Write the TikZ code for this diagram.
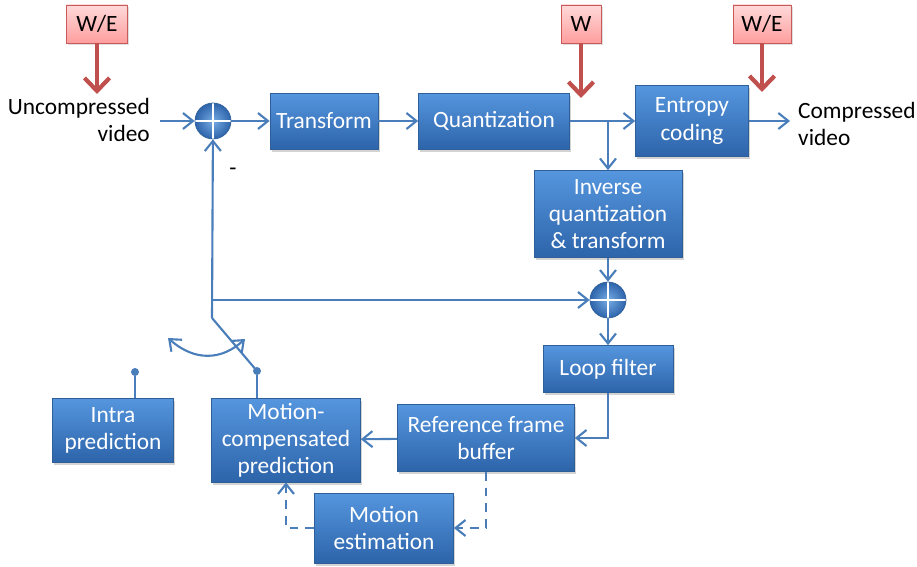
\documentclass[tikz,border=0pt]{standalone}
\usepackage{fontspec}
\setmainfont{Carlito}
\usetikzlibrary{arrows.meta,shadows}

\definecolor{boxtop}{HTML}{5596DE}
\definecolor{boxbot}{HTML}{2D64AA}
\definecolor{boxline}{HTML}{2F5F98}
\definecolor{wire}{HTML}{4A7EBB}
\definecolor{tagtop}{HTML}{FFD9D9}
\definecolor{tagbot}{HTML}{FF9E9E}
\definecolor{tagline}{HTML}{C85A5A}
\definecolor{ctrl}{HTML}{C0504D}

\begin{document}
\begin{tikzpicture}[x=0.02cm,y=-0.02cm,
		font=\fontsize{13.3}{15.4}\selectfont,
		box_style/.style={rectangle,draw=boxline,top color=boxtop,bottom color=boxbot,
			text=white,align=center,inner sep=0pt,
			drop shadow={opacity=0.35,shadow xshift=1pt,shadow yshift=-1.5pt}},
		tag_style/.style={rectangle,draw=tagline,top color=tagtop,bottom color=tagbot,
			text=black,inner sep=0pt,minimum height=0.76cm,
			drop shadow={opacity=0.25,shadow xshift=1pt,shadow yshift=-1pt}},
		sum_style/.style={circle,draw=boxline,inner sep=0pt,minimum size=0.72cm,
			inner color=boxtop!80!white,outer color=boxbot,
			path picture={\draw[white,line width=0.8pt]
				(path picture bounding box.north) -- (path picture bounding box.south)
				(path picture bounding box.west) -- (path picture bounding box.east);}},
		pin_style/.style={circle,fill=wire,inner sep=0pt,minimum size=0.16cm},
		edge_style/.style={draw=wire,line width=1.2pt,-{Straight Barb[length=2mm,width=3.2mm]}},
		line_style/.style={draw=wire,line width=1.2pt},
		dash_style/.style={draw=wire,line width=1.2pt,dash pattern=on 5pt off 4pt},
		ctrl_style/.style={draw=ctrl,line width=2.4pt,-{Straight Barb[length=2.6mm,width=5mm]}}]

		\useasboundingbox (0,0) rectangle (917,567);

		% control tags
		\node[tag_style,minimum width=1.22cm] (we1) at (97,24) {W/E};
		\node[tag_style,minimum width=0.80cm] (w2) at (581,24) {W};
		\node[tag_style,minimum width=1.16cm] (we3) at (762,24) {W/E};

		% forward path
		\node[align=right,anchor=east] (in) at (156,120) {Uncompressed\\video};
		\node[sum_style] (sum1) at (213,121) {};
		\node[box_style,minimum width=2.16cm,minimum height=1.12cm] (tr) at (324,121) {Transform};
		\node[box_style,minimum width=3.02cm,minimum height=1.12cm] (qu) at (494,121) {Quantization};
		\node[box_style,minimum width=2.26cm,minimum height=1.42cm] (ent) at (692,121) {Entropy\\coding};
		\node[align=left,anchor=west] (out) at (792,124) {Compressed\\video};

		% reconstruction loop
		\node[box_style,minimum width=2.96cm,minimum height=1.74cm] (inv) at (608,214) {Inverse\\quantization\\\& transform};
		\node[sum_style] (sum2) at (608,300) {};
		\node[box_style,minimum width=2.60cm,minimum height=0.94cm] (loop) at (608,369) {Loop filter};
		\node[box_style,minimum width=3.54cm,minimum height=1.34cm] (ref) at (486,438) {Reference frame\\buffer};
		\node[box_style,minimum width=2.98cm,minimum height=1.68cm] (mc) at (286,440) {Motion-\\compensated\\prediction};
		\node[box_style,minimum width=2.42cm,minimum height=1.28cm] (intra) at (113,430) {Intra\\prediction};
		\node[box_style,minimum width=2.78cm,minimum height=1.40cm] (me) at (384,528) {Motion\\estimation};

		% switch
		\node[pin_style] (ipin) at (135,372) {};
		\node[pin_style] (mpin) at (257,371) {};
		\coordinate (sw) at (212,318);
		\coordinate (tap) at (212,300);
		\coordinate (split) at (608,121);
		\coordinate (swl) at (168,338);
		\coordinate (swr) at (245,339);
		\node (minus) at (233,172) {-};

		\draw[ctrl_style] (we1) -- ++(0,70);
		\draw[ctrl_style] (w2) -- ++(0,74);
		\draw[ctrl_style] (we3) -- ++(0,68);

		\draw[edge_style] (in.east |- sum1) ++(4,0) -- (sum1);
		\draw[edge_style] (sum1) -- (tr);
		\draw[edge_style] (tr) -- (qu);
		\draw[edge_style] (qu) -- (ent);
		\draw[edge_style] (ent) -- ++(98,0);
		\draw[edge_style] (split) -- (inv);
		\draw[edge_style] (inv) -- (sum2);
		\draw[edge_style] (sum2) -- (loop);
		\draw[edge_style] (loop.south) |- (ref.east);
		\draw[edge_style] (ref) -- (mc);
		\draw[edge_style] (sw) -- (sum1);
		\draw[edge_style] (tap) -- (sum2);
		\draw[line_style] (sw) -- (mpin.center);
		\draw[line_style] (mpin) -- (mpin |- mc.north);
		\draw[line_style] (ipin) -- (ipin |- intra.north);
		\draw[line_style,{Straight Barb[length=2mm,width=3.2mm]}-{Straight Barb[length=2mm,width=3.2mm]}]
			(swl) .. controls (195,362) and (222,360) .. (swr);
		\draw[dash_style,-{Straight Barb[length=2mm,width=3.2mm]}] (ref.south) |- (me.east);
		\draw[dash_style,-{Straight Barb[length=2mm,width=3.2mm]}] (me.west) -| (mc.south);

		\end{tikzpicture}
\end{document}
